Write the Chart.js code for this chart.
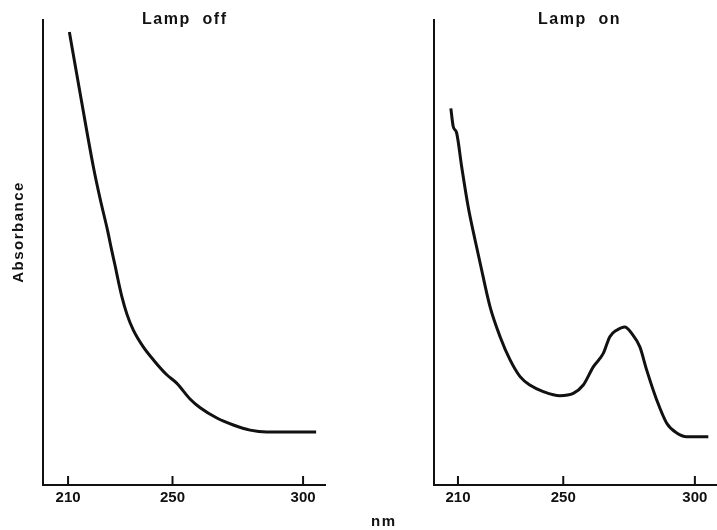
<!DOCTYPE html>
<html>
<head>
<meta charset="utf-8">
<script src="https://cdn.jsdelivr.net/npm/chart.js@4.4.1/dist/chart.umd.min.js"></script>
<style>
  body { margin: 0; background: #fff; }
  #wrap { position: relative; width: 717px; height: 530px; overflow: hidden; }
  canvas { position: absolute; left: 0; top: 0; }
  .lbl {
    position: absolute; font-family: "Liberation Sans", Arial, sans-serif;
    font-weight: bold; font-size: 16px; color: #111; white-space: pre;
    letter-spacing: 1.5px; line-height: 16px;
  }
</style>
</head>
<body>
<div id="wrap">
  <canvas id="offChart" width="717" height="530"></canvas>
  <canvas id="onChart" width="717" height="530"></canvas>
  <div class="lbl" style="left:142px; top:11px;">Lamp  off</div>
  <div class="lbl" style="left:538px; top:11px;">Lamp  on</div>
  <div class="lbl" style="left:-37px; top:224px; width:110px; text-align:center; font-size:15px; transform: rotate(-90deg);">Absorbance</div>
  <div class="lbl" style="left:371px; top:513px; font-size:15px;">nm</div>
</div>
<script>
// Two UV spectra, lamp off / lamp on. Absorbance in arbitrary units (no y ticks in the original).

// ===== data =====
const tickValues = [210, 250, 300];

const offWavelengths = [210.5, 214.6, 219.7, 222.3, 225.1, 226.7, 228.0, 229.3, 230.6, 232.5, 235.0,
  238.8, 242.7, 247.8, 251.6, 256.7, 260.6, 267.0, 273.3, 279.7, 286.1, 295.0, 305.0];
const offAbsorbance = [0.974, 0.843, 0.684, 0.615, 0.548, 0.505, 0.472, 0.437, 0.405, 0.368, 0.333,
  0.297, 0.269, 0.237, 0.219, 0.185, 0.166, 0.144, 0.129, 0.118, 0.114, 0.114, 0.114];

const onWavelengths = [207.3, 208.2, 209.5, 211.4, 213.9, 216.5, 218.4, 222.2, 226.0, 229.8, 233.6,
  237.3, 242.4, 248.7, 253.8, 257.6, 261.4, 265.2, 267.7, 270.3, 273.4, 276.0, 279.1, 281.7,
  285.5, 289.3, 293.1, 296.9, 305.1];
const onAbsorbance = [0.810, 0.771, 0.757, 0.685, 0.598, 0.527, 0.478, 0.383, 0.319, 0.269, 0.233,
  0.215, 0.201, 0.192, 0.197, 0.215, 0.254, 0.283, 0.319, 0.333, 0.340, 0.326, 0.297, 0.247,
  0.183, 0.133, 0.112, 0.104, 0.104];

const ink = "#111111";

// short tick marks pointing up into the plot, like the original
const innerTicks = {
  id: "innerTicks",
  afterDraw(chart) {
    const xs = chart.scales.x;
    const ctx = chart.ctx;
    const bottom = chart.chartArea.bottom;
    ctx.save();
    ctx.strokeStyle = ink;
    ctx.lineWidth = 2;
    xs.ticks.forEach(t => {
      const px = xs.getPixelForValue(t.value);
      ctx.beginPath();
      ctx.moveTo(px, bottom);
      ctx.lineTo(px, bottom - 9);
      ctx.stroke();
    });
    ctx.restore();
  }
};

function makeSpectrum(canvasId, xs, ys, xMin, xMax, padding) {
  const ctx = document.getElementById(canvasId).getContext("2d");
  return new Chart(ctx, {
    type: "line",
    data: {
      datasets: [{
        data: xs.map((x, i) => ({ x: x, y: ys[i] })),
        borderColor: ink,
        borderWidth: 3,
        pointRadius: 0,
        cubicInterpolationMode: "monotone",
        fill: false
      }]
    },
    options: {
      responsive: false,
      animation: false,
      layout: { padding: padding },
      plugins: { legend: { display: false }, tooltip: { enabled: false } },
      scales: {
        x: {
          type: "linear",
          min: xMin,
          max: xMax,
          afterBuildTicks: scale => { scale.ticks = tickValues.map(v => ({ value: v })); },
          afterFit: scale => { scale.height = 45; },
          ticks: {
            color: ink,
            padding: 4,
            maxRotation: 0,
            font: { family: "Liberation Sans", weight: "bold", size: 15 }
          },
          grid: { display: false, drawTicks: false },
          border: { display: true, color: ink, width: 2 }
        },
        y: {
          min: 0,
          max: 1,
          ticks: { display: false },
          grid: { display: false, drawTicks: false },
          border: { display: true, color: ink, width: 2 }
        }
      }
    },
    plugins: [innerTicks]
  });
}

// ===== LEFT: lamp off =====
makeSpectrum("offChart", offWavelengths, offAbsorbance, 200.4, 308.4,
  { left: 43, top: 20, right: 392, bottom: 0 });

// ===== RIGHT: lamp on =====
makeSpectrum("onChart", onWavelengths, onAbsorbance, 200.9, 308.4,
  { left: 434, top: 20, right: 0, bottom: 0 });
</script>
</body>
</html>
